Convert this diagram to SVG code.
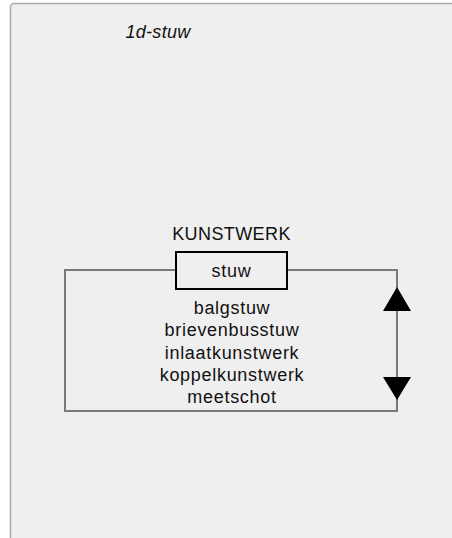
<svg xmlns="http://www.w3.org/2000/svg" width="452" height="538" viewBox="0 0 452 538">
<style>
.t{font-family:"Liberation Sans",Arial,sans-serif;font-size:18px;fill:#111;text-anchor:middle}
.lc{letter-spacing:0.7px}
.conn{fill:none;stroke:#7a7a7a;stroke-width:2}
.arr{fill:#000}
</style>
<rect width="452" height="538" fill="#ffffff"/>
<rect x="10.5" y="3.5" width="460" height="560" rx="3.5" fill="#efefef" stroke="#aaaaaa" stroke-width="1.5"/>
<text class="t" x="158" y="38" font-style="italic" style="text-anchor:middle;letter-spacing:0.3px">1d-stuw</text>
<g id="connectors">
<path class="conn" d="M176,270 H65 V411 H397 V270 H287"/>
<polygon class="arr" points="397,287 383,311 411,311"/>
<polygon class="arr" points="383,377 411,377 397,400"/>
</g>
<g id="kunstwerk">
<text class="t" x="231.5" y="240" style="letter-spacing:0.4px">KUNSTWERK</text>
<g id="stuw">
<rect x="176" y="252" width="111" height="37" fill="#efefef" stroke="#000" stroke-width="2"/>
<text class="t lc" x="231.5" y="277">stuw</text>
</g>
<g id="subtypes">
<text class="t lc" x="232" y="314">balgstuw</text>
<text class="t lc" x="232" y="336">brievenbusstuw</text>
<text class="t lc" x="232" y="358.5">inlaatkunstwerk</text>
<text class="t lc" x="232" y="381">koppelkunstwerk</text>
<text class="t lc" x="232" y="403">meetschot</text>
</g>
</g>
</svg>
